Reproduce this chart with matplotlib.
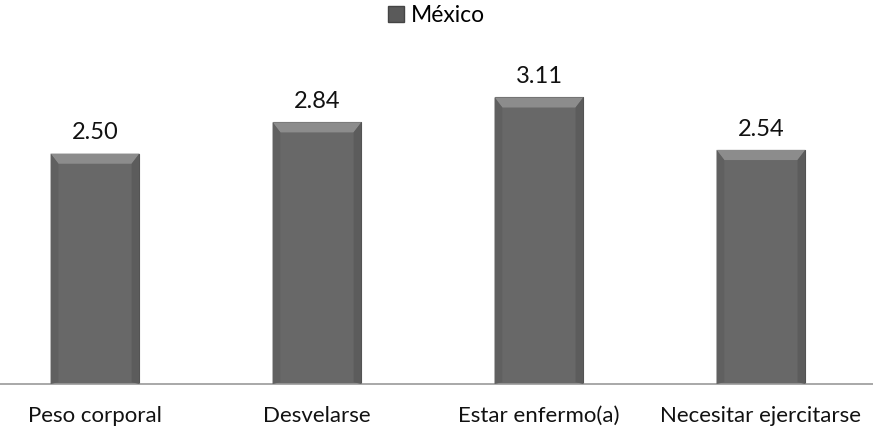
import matplotlib.pyplot as plt
import numpy as np
from matplotlib.patches import Polygon, Patch

categories = ['Peso corporal', 'Desvelarse', 'Estar enfermo(a)', 'Necesitar ejercitarse']
mexico = [2.50, 2.84, 3.11, 2.54]
series_name = 'México'

plt.rcParams['font.family'] = ['Lato', 'DejaVu Sans']

fig = plt.figure(figsize=(8.73, 4.48), dpi=100)
ax = fig.add_axes([0.0, (448 - 384) / 448, 1.0, 0.72])

x = np.arange(len(categories))
width = 0.40
ax.bar(x, mexico, width=width, color='#686868', edgecolor='#4f4f4f',
       linewidth=0.8, zorder=2)

# bevel on the top and sides of each bar
for xi, v in zip(x, mexico):
    left, right = xi - width/2, xi + width/2
    bev_x, bev_y = 0.035, 0.11
    ax.add_patch(Polygon([[left, v], [right, v], [right - bev_x, v - bev_y],
                          [left + bev_x, v - bev_y]], closed=True,
                         facecolor='#8c8c8c', edgecolor='none', zorder=3))
    ax.add_patch(Polygon([[left, v], [left + bev_x, v - bev_y],
                          [left + bev_x, 0.02], [left, 0]], closed=True,
                         facecolor='#606060', edgecolor='none', zorder=3))
    ax.add_patch(Polygon([[right, v], [right - bev_x, v - bev_y],
                          [right - bev_x, 0.02], [right, 0]], closed=True,
                         facecolor='#5c5c5c', edgecolor='none', zorder=3))
    ax.text(xi, v + 0.11, f'{v:.2f}', ha='center', va='bottom',
            fontsize=17, color='#111111')

ax.set_xlim(-0.428, 3.505)
ax.set_ylim(0, 3.5)
ax.set_xticks(x)
ax.set_xticklabels(categories, fontsize=16, color='#111111')
ax.tick_params(axis='x', length=0, pad=16)
ax.set_yticks([])
for s in ['top', 'right', 'left']:
    ax.spines[s].set_visible(False)
ax.spines['bottom'].set_color('#999999')
ax.spines['bottom'].set_linewidth(1.2)

fig.legend(handles=[Patch(facecolor='#5a5a5a', edgecolor='#444444', label=series_name)],
           loc='upper center', bbox_to_anchor=(0.5, 1.035), frameon=False,
           fontsize=16.5, handlelength=0.7, handleheight=0.7, handletextpad=0.3)

fig.savefig('out.png', dpi=100)
